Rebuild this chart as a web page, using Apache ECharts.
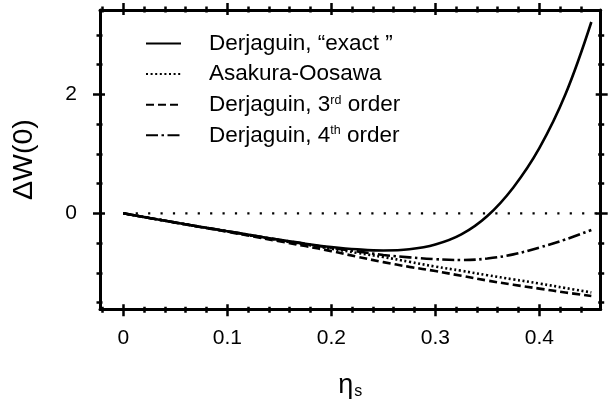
<!DOCTYPE html>
<html><head><meta charset="utf-8">
<script src="https://cdn.jsdelivr.net/npm/echarts@6/dist/echarts.min.js"></script>
<style>html,body{margin:0;padding:0;background:#fff}#c{width:610px;height:411px}</style>
</head><body><div id="c"></div>
<script>
const ETA   = [0,0.025,0.05,0.075,0.1,0.125,0.15,0.175,0.2,0.225,0.25,0.275,0.3,0.325,0.35,0.375,0.4,0.425,0.45];
const EXACT = [0,-0.078,-0.155,-0.23,-0.30,-0.375,-0.445,-0.51,-0.565,-0.605,-0.625,-0.605,-0.525,-0.355,-0.045,0.435,1.095,1.995,3.215];
const AO    = [0,-0.078,-0.155,-0.23,-0.305,-0.38,-0.455,-0.525,-0.595,-0.665,-0.735,-0.815,-0.895,-0.965,-1.04,-1.11,-1.18,-1.255,-1.33];
const D3    = [0,-0.078,-0.156,-0.233,-0.31,-0.39,-0.47,-0.55,-0.635,-0.73,-0.82,-0.90,-0.97,-1.05,-1.13,-1.20,-1.265,-1.33,-1.39];
const D4    = [0,-0.078,-0.155,-0.23,-0.30,-0.375,-0.445,-0.515,-0.58,-0.64,-0.70,-0.74,-0.77,-0.785,-0.76,-0.69,-0.575,-0.44,-0.28];
const ZERO_X = [0, 0.459];
const ZERO_Y = [0, 0];
const X_MAJOR = [0,0.1,0.2,0.3,0.4];
const X_MINOR = [-0.02,0.02,0.04,0.06,0.08,0.12,0.14,0.16,0.18,0.22,0.24,0.26,0.28,0.32,0.34,0.36,0.38,0.42,0.44];
const Y_MAJOR = [0,2];
const Y_MINOR = [-1.5,-1,-0.5,0.5,1,1.5,2.5,3];
const NAMES = ['Derjaguin, \u201cexact \u201d','Asakura-Oosawa','Derjaguin, 3rd order','Derjaguin, 4th order'];
const LEGEND_RICH = ['Derjaguin, \u201cexact \u201d','Asakura-Oosawa','Derjaguin, 3{sup|rd} order','Derjaguin, 4{sup|th} order'];

const XMIN = -0.0224, XMAX = 0.459, YMIN = -1.613, YMAX = 3.417;
const FONT = "'Liberation Sans', Arial, Helvetica, sans-serif";
const BLACK = '#000';

function pairs(xs, ys){ return xs.map((x,i)=>[x, ys[i]]); }

function axisBase(min, max){
  return {type:'value', min:min, max:max, splitLine:{show:false},
    axisLine:{show:false, onZero:false}, axisTick:{show:false}, axisLabel:{show:false}};
}
function mainAxis(pos, min, max, labels){
  const a = axisBase(min,max);
  a.position = pos;
  a.axisLine = {show:true, onZero:false, lineStyle:{color:BLACK, width:3}};
  if (labels) {
    a.axisLabel = {show:true, customValues:labels, color:BLACK, fontSize:21, fontFamily:FONT,
      margin: (pos==='bottom'?18:23),
      formatter: v => String(Math.round(v*10)/10)};
  }
  return a;
}
function tickAxis(pos, min, max, vals, len, off){
  const a = axisBase(min,max);
  a.position = pos;
  a.offset = -off;
  a.axisTick = {show:true, customValues:vals, inside:false, length:len, lineStyle:{color:BLACK, width:2.5}};
  return a;
}

const xAxes = [
  Object.assign(mainAxis('bottom', XMIN, XMAX, X_MAJOR), {
    name:'{e|\u03b7}{s|s}', nameLocation:'middle', nameGap:63,
    nameTextStyle:{color:BLACK, fontFamily:FONT, rich:{
      e:{fontSize:27, fontFamily:FONT, color:BLACK},
      s:{fontSize:16, fontFamily:FONT, color:BLACK, verticalAlign:'bottom', padding:[10,0,0,1]}}}
  }),
  tickAxis('bottom', XMIN, XMAX, X_MAJOR, 12, 5),
  tickAxis('bottom', XMIN, XMAX, X_MINOR, 6, 2.5),
  mainAxis('top', XMIN, XMAX, null),
  tickAxis('top', XMIN, XMAX, X_MAJOR, 12, 5),
  tickAxis('top', XMIN, XMAX, X_MINOR, 6, 2.5)
];
const yAxes = [
  Object.assign(mainAxis('left', YMIN, YMAX, Y_MAJOR), {
    name:'\u0394W(0)', nameLocation:'middle', nameGap:61, nameRotate:90,
    nameTextStyle:{color:BLACK, fontFamily:FONT, fontSize:28.5}
  }),
  tickAxis('left', YMIN, YMAX, Y_MAJOR, 12, 5),
  tickAxis('left', YMIN, YMAX, Y_MINOR, 6, 2.5),
  mainAxis('right', YMIN, YMAX, null),
  tickAxis('right', YMIN, YMAX, Y_MAJOR, 12, 5),
  tickAxis('right', YMIN, YMAX, Y_MINOR, 6, 2.5)
];
yAxes[0].axisLabel.formatter = v => String(v);

function curve(name, ys, type){
  return {name:name, type:'line', data:pairs(ETA, ys), showSymbol:false, symbol:'none',
    smooth:0.4, xAxisIndex:0, yAxisIndex:0,
    lineStyle:{color:BLACK, width:2.6, type:type, cap:'butt'}, itemStyle:{color:BLACK}};
}

const option = {
  animation:false,
  backgroundColor:'#fff',
  grid:{left:100, right:9.3, top:10, bottom:101.7, containLabel:false},
  xAxis:xAxes,
  yAxis:yAxes,
  legend:{
    data:NAMES, orient:'vertical', left:145, top:32, padding:0, itemWidth:35, itemHeight:14, itemGap:7.6,
    itemStyle:{opacity:0},
    formatter: n => LEGEND_RICH[NAMES.indexOf(n)],
    textStyle:{color:BLACK, fontSize:22.5, fontFamily:FONT, lineHeight:22, padding:[0,0,0,23],
      rich:{sup:{fontSize:12.5, fontFamily:FONT, color:BLACK, verticalAlign:'top', lineHeight:14, padding:[0,0,8,0]}}},
    selectedMode:false
  },
  series:[
    {name:'zero', type:'line', data:pairs(ZERO_X, ZERO_Y), showSymbol:false, symbol:'none',
      lineStyle:{color:BLACK, width:2.2, type:[2.2,10.2], cap:'butt'}, silent:true},
    curve(NAMES[0], EXACT, 'solid'),
    curve(NAMES[1], AO, [2,2.6]),
    curve(NAMES[2], D3, [8,4]),
    curve(NAMES[3], D4, [12,3.5,2.5,3.5])
  ]
};
const chart = echarts.init(document.getElementById('c'), null, {renderer:'canvas'});
chart.setOption(option);
</script></body></html>
